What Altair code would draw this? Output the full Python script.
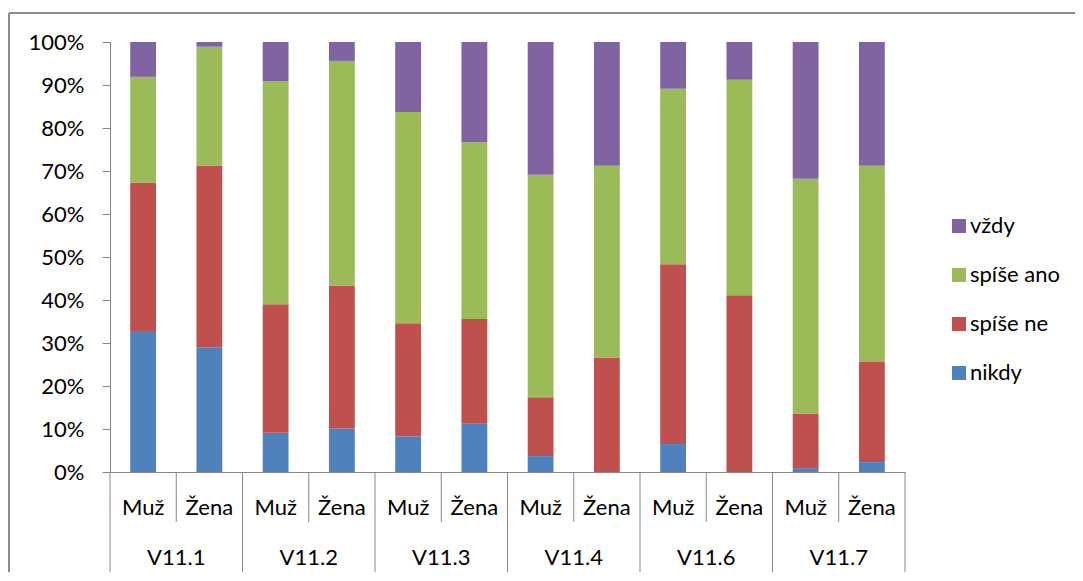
import altair as alt
import pandas as pd

groups = ["V11.1", "V11.2", "V11.3", "V11.4", "V11.6", "V11.7"]
genders = ["Muž", "Žena"]
responses = ["vždy", "spíše ano", "spíše ne", "nikdy"]
colors = ["#8064A2", "#9BBB59", "#C0504D", "#4F81BD"]

# values per bar (V11.1 Muž, V11.1 Žena, V11.2 Muž, ...), in %
nikdy = [32.8, 29.0, 9.1, 10.1, 8.3, 11.2, 3.7, 0.0, 6.5, 0.0, 0.9, 2.3]
spise_ne = [34.5, 42.3, 29.9, 33.3, 26.3, 24.4, 13.7, 26.6, 41.8, 41.1, 12.7, 23.3]
spise_ano = [24.6, 27.6, 51.9, 52.2, 49.1, 41.1, 51.7, 44.6, 40.8, 50.1, 54.6, 45.6]
vzdy = [8.1, 1.1, 9.1, 4.4, 16.3, 23.3, 30.9, 28.8, 10.9, 8.8, 31.8, 28.8]

series = {"nikdy": nikdy, "spíše ne": spise_ne, "spíše ano": spise_ano, "vždy": vzdy}
stack_order = {"nikdy": 0, "spíše ne": 1, "spíše ano": 2, "vždy": 3}

cats = [f"{g} {s}" for g in groups for s in genders]
rows = []
for resp, vals in series.items():
    for i, c in enumerate(cats):
        rows.append({"cat": c, "resp": resp, "value": vals[i], "ord": stack_order[resp]})
df = pd.DataFrame(rows)
cat_df = pd.DataFrame({"cat": cats})
muz_df = pd.DataFrame({"cat": [f"{g} Muž" for g in groups], "group": groups})
zena_df = pd.DataFrame({"cat": [f"{g} Žena" for g in groups]})
first_df = pd.DataFrame({"cat": cats[:1]})
one = pd.DataFrame({"k": [0]})

FONT = "Lato"
GRAY = "#868686"
FS = 22
H = 430

x_axis = alt.Axis(orient="bottom", labelExpr="split(datum.label, ' ')[1]",
                  labelAngle=0, ticks=False, domainColor=GRAY, labelFontSize=FS,
                  labelFont=FONT, labelColor="black", labelBaseline="middle",
                  labelPadding=35, labelOverlap=False)
x_scale = alt.Scale(paddingInner=0, paddingOuter=0)


def xenc(band):
    return alt.X("cat:N", sort=cats, title=None, scale=x_scale, axis=x_axis,
                 bandPosition=band)


bars = alt.Chart(df).mark_bar(width=alt.RelativeBandSize(0.39)).encode(
    x=alt.X("cat:N", sort=cats, title=None, scale=x_scale, axis=x_axis),
    y=alt.Y("value:Q", stack="normalize", title=None,
            scale=alt.Scale(domain=[0, 1]),
            axis=alt.Axis(values=[i / 10 for i in range(11)], format=".0%", grid=False,
                          tickSize=8, tickColor=GRAY, domainColor=GRAY,
                          labelFontSize=FS, labelFont=FONT, labelColor="black",
                          labelPadding=18, labelOverlap=False)),
    color=alt.Color("resp:N", scale=alt.Scale(domain=responses, range=colors),
                    legend=alt.Legend(title=None, orient="none", legendX=838, legendY=173,
                                      symbolType="square", symbolSize=196,
                                      symbolStrokeWidth=0, labelFontSize=FS,
                                      labelFont=FONT, labelColor="black",
                                      rowPadding=27, padding=0, labelOffset=0)),
    order=alt.Order("ord:Q"),
)

short_sep = alt.Chart(cat_df).mark_rule(color=GRAY, strokeWidth=1).encode(
    x=xenc(1), y=alt.value(H), y2=alt.value(H + 50))
long_sep = alt.Chart(zena_df).mark_rule(color=GRAY, strokeWidth=1).encode(
    x=xenc(1), y=alt.value(H + 50), y2=alt.value(H + 103))
start_sep = alt.Chart(first_df).mark_rule(color=GRAY, strokeWidth=1).encode(
    x=xenc(0), y=alt.value(H), y2=alt.value(H + 103))
group_labels = alt.Chart(muz_df).mark_text(
    font=FONT, fontSize=FS, color="black", baseline="middle", align="center"
).encode(x=xenc(1), y=alt.value(H + 86), text="group:N")

# outer chart frame (left and top edges, as in the reference)
border_top = alt.Chart(one).mark_rule(color="#8c8c8c", strokeWidth=2).encode(
    x=alt.value(-101), x2=alt.value(965), y=alt.value(-29))
border_left = alt.Chart(one).mark_rule(color="#8c8c8c", strokeWidth=2).encode(
    x=alt.value(-101), y=alt.value(-29), y2=alt.value(530))

chart = alt.layer(border_top, border_left, bars, short_sep, long_sep, start_sep,
                  group_labels).properties(
    width=795, height=H,
    autosize=alt.AutoSizeParams(type="none"),
    padding={"left": 102, "top": 34, "right": 170, "bottom": 100},
).configure_view(strokeWidth=0)

chart.save("out.html", embed_options={"renderer": "svg", "actions": False})
